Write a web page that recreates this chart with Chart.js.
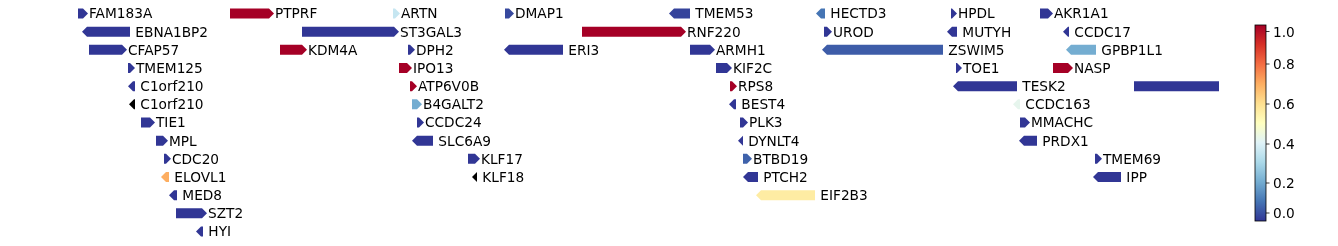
<!DOCTYPE html>
<html>
<head>
<meta charset="utf-8">
<script src="https://cdn.jsdelivr.net/npm/chart.js@4/dist/chart.umd.min.js"></script>
<style>
  html, body { margin: 0; padding: 0; background: #fff; }
  #wrap { width: 1338px; height: 246px; }
</style>
</head>
<body>
<div id="wrap"><canvas id="genes" width="1338" height="246"></canvas></div>
<script>
// gene track, one entry per gene (positions in plot units)
var geneNames  = ['FAM183A','PTPRF','ARTN','DMAP1','TMEM53','HECTD3','HPDL','AKR1A1',
                  'EBNA1BP2','ST3GAL3','RNF220','UROD','MUTYH','CCDC17',
                  'CFAP57','KDM4A','DPH2','ERI3','ARMH1','ZSWIM5','GPBP1L1',
                  'TMEM125','IPO13','KIF2C','TOE1','NASP',
                  'C1orf210','ATP6V0B','RPS8','TESK2','',
                  'C1orf210','B4GALT2','BEST4','CCDC163',
                  'TIE1','CCDC24','PLK3','MMACHC',
                  'MPL','SLC6A9','DYNLT4','PRDX1',
                  'CDC20','KLF17','BTBD19','TMEM69',
                  'ELOVL1','KLF18','PTCH2','IPP',
                  'MED8','EIF2B3',
                  'SZT2',
                  'HYI'];
var geneRow    = [0,0,0,0,0,0,0,0,
                  1,1,1,1,1,1,
                  2,2,2,2,2,2,2,
                  3,3,3,3,3,
                  4,4,4,4,4,
                  5,5,5,5,
                  6,6,6,6,
                  7,7,7,7,
                  8,8,8,8,
                  9,9,9,9,
                  10,10,
                  11,
                  12];
var geneStart  = [78,230,393,505,669,816,951,1040,
                  82,302,582,824,947,1063,
                  89,280,408,504,690,822,1066,
                  128,399,716,956,1053,
                  128,410,730,953,1134,
                  129,412,729,1013,
                  141,417,740,1020,
                  156,412,738,1019,
                  164,468,743,1095,
                  161,472,743,1093,
                  169,756,
                  176,
                  196];
var geneEnd    = [88,274,400,514,690,825,957,1053,
                  130,399,686,832,957,1069,
                  127,307,415,563,715,943,1096,
                  135,412,732,962,1073,
                  135,417,737,1017,1260,
                  135,422,736,1020,
                  155,424,748,1030,
                  168,433,743,1037,
                  171,480,752,1102,
                  169,477,758,1121,
                  177,815,
                  207,
                  203];
var geneStrand = ['+','+','+','+','-','-','+','+',
                  '-','+','+','+','-','-',
                  '+','+','+','-','+','-','-',
                  '+','+','+','+','+',
                  '-','+','+','-','+',
                  '-','+','-','-',
                  '+','+','+','+',
                  '+','-','-','-',
                  '+','+','+','+',
                  '-','-','-','-',
                  '-','-',
                  '+',
                  '-'];
var geneValue  = [0,1,0.35,0.03,0.02,0.1,0,0,
                  0,0,1,0,0,0,
                  0,1,0,0,0,0.06,0.2,
                  0,1,0,0,1,
                  0,1,1,0,0,
                  null,0.2,0,0.42,
                  0,0,0,0,
                  0,0,0,0,
                  0,0,0.07,0,
                  0.7,null,0,0,
                  0,0.56,
                  0,
                  0];

// colorbar
var cbTicks = [0.0, 0.2, 0.4, 0.6, 0.8, 1.0];
var cbTickY = [213, 183, 144, 104, 64, 31.5];

// RdYlBu reversed
var cmapStops = ['#313695','#4575b4','#74add1','#abd9e9','#e0f3f8','#ffffbf',
                 '#fee090','#fdae61','#f46d43','#d73027','#a50026'];

function hexRgb(h) {
  return [parseInt(h.slice(1,3),16), parseInt(h.slice(3,5),16), parseInt(h.slice(5,7),16)];
}
function cmap(v) {
  if (v === null) return '#000000';
  v = Math.max(0, Math.min(1, v));
  var f = v * (cmapStops.length - 1);
  var i = Math.min(Math.floor(f), cmapStops.length - 2);
  var t = f - i;
  var a = hexRgb(cmapStops[i]), b = hexRgb(cmapStops[i+1]);
  return 'rgb(' + [0,1,2].map(function(k){ return Math.round(a[k] + (b[k]-a[k])*t); }).join(',') + ')';
}

var FONT = '13.7px "DejaVu Sans"';

var points = geneNames.map(function(n, i) {
  return { x: [geneStart[i], geneEnd[i]], y: geneRow[i] };
});

var arrowPlugin = {
  id: 'arrows',
  afterDatasetsDraw: function(chart) {
    var ctx = chart.ctx;
    var area = chart.chartArea;
    var meta = chart.getDatasetMeta(0);
    ctx.save();
    // shapes are clipped to the plot area
    ctx.save();
    ctx.beginPath();
    ctx.rect(area.left, area.top, area.right - area.left, area.bottom - area.top);
    ctx.clip();
    meta.data.forEach(function(bar, i) {
      var p = bar.getProps(['x', 'base', 'y', 'height'], true);
      var l = Math.min(p.x, p.base), r = Math.max(p.x, p.base);
      var h = p.height / 2, y = p.y;
      var tip = Math.min(5, r - l);
      ctx.fillStyle = cmap(geneValue[i]);
      ctx.beginPath();
      if (geneStrand[i] === '+') {
        ctx.moveTo(l, y - h);
        ctx.lineTo(r - tip, y - h);
        ctx.lineTo(r, y);
        ctx.lineTo(r - tip, y + h);
        ctx.lineTo(l, y + h);
      } else {
        ctx.moveTo(r, y - h);
        ctx.lineTo(l + tip, y - h);
        ctx.lineTo(l, y);
        ctx.lineTo(l + tip, y + h);
        ctx.lineTo(r, y + h);
      }
      ctx.closePath();
      ctx.fill();
    });
    ctx.restore();
    // gene names
    ctx.font = FONT;
    ctx.fillStyle = '#000';
    ctx.textBaseline = 'alphabetic';
    ctx.textAlign = 'left';
    meta.data.forEach(function(bar, i) {
      var p = bar.getProps(['x', 'base', 'y'], true);
      var r = Math.max(p.x, p.base);
      if (r > area.right || !geneNames[i]) return;
      var label = (geneStrand[i] === '-' ? ' ' : '') + geneNames[i];
      ctx.fillText(label, r + 1, p.y + 5);
    });
    ctx.restore();
  }
};

var colorbarPlugin = {
  id: 'colorbar',
  afterDraw: function(chart) {
    var ctx = chart.ctx;
    var x0 = 1255, w = 11, top = 25, bottom = 221;
    ctx.save();
    var g = ctx.createLinearGradient(0, bottom, 0, top);
    cmapStops.forEach(function(c, i) { g.addColorStop(i / (cmapStops.length - 1), c); });
    ctx.fillStyle = g;
    ctx.fillRect(x0, top, w, bottom - top);
    ctx.strokeStyle = '#000';
    ctx.lineWidth = 0.8;
    ctx.strokeRect(x0, top, w, bottom - top);
    ctx.font = FONT;
    ctx.fillStyle = '#000';
    ctx.textAlign = 'left';
    ctx.textBaseline = 'alphabetic';
    cbTicks.forEach(function(v, i) {
      var ty = cbTickY[i];
      ctx.beginPath();
      ctx.moveTo(x0 + w, ty);
      ctx.lineTo(x0 + w + 3.5, ty);
      ctx.stroke();
      ctx.fillText(v.toFixed(1), x0 + w + 7, ty + 5);
    });
    ctx.restore();
  }
};

Chart.defaults.font.family = '"DejaVu Sans"';

var ctx = document.getElementById('genes').getContext('2d');
var geneChart = new Chart(ctx, {
  type: 'bar',
  data: {
    datasets: [{
      data: points,
      backgroundColor: 'rgba(0,0,0,0)',
      borderWidth: 0,
      barThickness: 10
    }]
  },
  options: {
    indexAxis: 'y',
    responsive: false,
    animation: false,
    devicePixelRatio: 1,
    events: [],
    layout: { padding: { left: 0, right: 119, top: 0, bottom: 0 } },
    plugins: {
      legend: { display: false },
      tooltip: { enabled: false },
      title: { display: false }
    },
    scales: {
      x: { type: 'linear', min: 0, max: 1219, display: false },
      y: { type: 'linear', min: -0.743, max: 12.8, reverse: true, offset: false, display: false }
    }
  },
  plugins: [arrowPlugin, colorbarPlugin]
});
</script>
</body>
</html>
